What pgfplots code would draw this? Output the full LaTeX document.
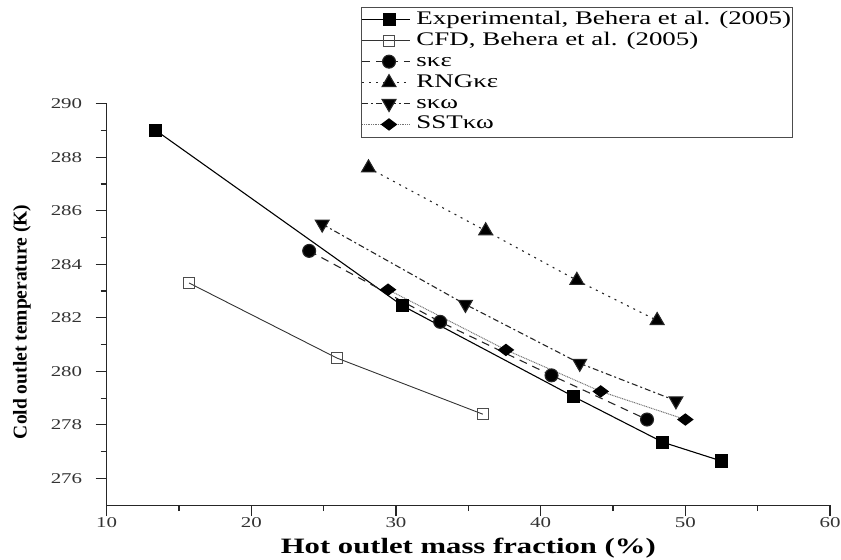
\documentclass[border=0pt]{standalone}
\usepackage{pgfplots}
\pgfplotsset{compat=1.18}
\usepackage{fontspec}
\setmainfont{Liberation Serif}[FakeStretch=1.4]
\newfontfamily\yfont{Liberation Serif}
\begin{document}
\begin{tikzpicture}
\path[use as bounding box] (-107pt,-55pt) rectangle (737pt,507pt);
\begin{axis}[
  at={(0pt,0pt)}, anchor=south west,
  scale only axis, width=726pt, height=403pt,
  xmin=10, xmax=60, ymin=275, ymax=290,
  axis lines*=left,
  axis line style={line width=1.3pt, black!85, -},
  xtick={10,20,30,40,50,60}, ytick={276,278,280,282,284,286,288,290},
  minor x tick num=1, minor y tick num=1,
  tick align=outside, xtick align=outside, ytick align=outside,
  major tick length=11pt, minor tick length=6pt,
  tick style={line width=1.2pt, black!85},
  /pgf/number format/assume math mode=true,
  /pgf/number format/1000 sep={},
  ticklabel style={font=\fontsize{15}{17}\selectfont, text=black!80},
  yticklabel style={xshift=-10pt},
  xticklabel style={yshift=2pt},
  xlabel={\textbf{Hot outlet mass fraction (\%)}},
  xlabel style={font=\fontsize{22}{24}\selectfont, at={(axis description cs:0.5,0)}, anchor=base, yshift=-48pt},
  ylabel={\yfont\textbf{Cold outlet temperature (K)}},
  ylabel style={font=\fontsize{19.6}{22}\selectfont, at={(axis description cs:-0.117,0.4566)}, anchor=center, rotate=0},
  legend style={at={(axis description cs:0.3512,1.2407)}, anchor=north west,
    draw=black!70, line width=0.8pt, inner xsep=0pt, inner ysep=2pt,
    font=\fontsize{19.3}{21}\selectfont,
    nodes={inner sep=1pt, text height=14pt, text depth=5pt},
    cells={anchor=west}},
  legend cell align=left,
  legend image code/.code={%
    \draw[#1, mark=none] (0pt,0pt) -- (48pt,0pt);
    \draw[#1, draw=none] plot coordinates {(27pt,0pt)};
    \path (-0.5pt,0pt) (53pt,0pt);},
]
\addplot[black, line width=1.1pt, mark=square*, mark size=6pt, mark options={solid}] coordinates {
 (13.4,289.0) (30.45,282.45) (42.3,279.05) (48.45,277.35) (52.5,276.65)};
\addlegendentry{Experimental, Behera et al. (2005)}
\addplot[black!80, line width=0.9pt, mark=square, mark size=5.5pt, mark options={solid, fill=white, draw=black!70}] coordinates {
 (15.7,283.3) (25.9,280.5) (36.0,278.4)};
\addlegendentry{CFD, Behera et al. (2005)}
\addplot[black!85, line width=1.1pt, dash pattern=on 8pt off 6pt, mark=*, mark size=6.5pt, mark options={solid, fill=black}] coordinates {
 (24.0,284.5) (33.05,281.85) (40.75,279.85) (47.35,278.2)};
\addlegendentry{sκε}
\addplot[black!85, line width=1.1pt, dash pattern=on 2pt off 5pt, mark=triangle*, mark size=8pt, mark options={solid, fill=black}] coordinates {
 (28.1,287.6) (36.2,285.25) (42.5,283.4) (48.05,281.9)};
\addlegendentry{RNGκε}
\addplot[black!85, line width=1.1pt, dash pattern=on 6pt off 3pt on 2pt off 3pt, mark=triangle*, mark size=8pt, mark options={solid, fill=black, rotate=180}] coordinates {
 (24.9,285.5) (34.8,282.5) (42.7,280.3) (49.35,278.9)};
\addlegendentry{sκω}
\addplot[black!55, line width=1pt, dash pattern=on 1pt off 0.8pt, mark=diamond*, mark size=7.5pt, mark options={solid, fill=black, draw=black, rotate=90}] coordinates {
 (29.45,283.05) (37.6,280.8) (44.15,279.25) (50.0,278.2)};
\addlegendentry{SSTκω}
\end{axis}
\end{tikzpicture}
\end{document}
